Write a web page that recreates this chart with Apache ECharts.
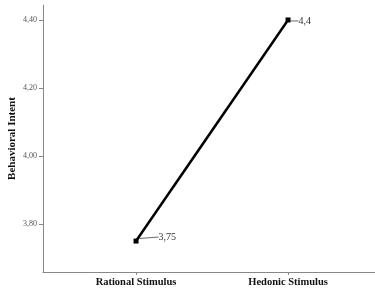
<!DOCTYPE html>
<html><head><meta charset="utf-8">
<script src="https://cdn.jsdelivr.net/npm/echarts@6/dist/echarts.min.js"></script>
<style>html,body{margin:0;padding:0;background:#fff}#c{width:375px;height:288px}</style>
</head><body><div id="c"></div>
<script>
var categories = ['Rational Stimulus', 'Hedonic Stimulus'];
var values = [3.75, 4.4];
var yTicks = [3.8, 4.0, 4.2, 4.4];
var xTicks = [0, 1];
var serif = '"Liberation Serif","DejaVu Serif",serif';
function fmt(v){ return v.toFixed(2).replace('.', ','); }
var chart = echarts.init(document.getElementById('c'), null, {renderer:'canvas'});
chart.setOption({
  animation: false,
  grid: {left: 43, right: 0, top: 5, bottom: 16, containLabel: false, outerBoundsMode: 'none'},
  xAxis: {
    type: 'value', min: -0.612, max: 1.572,
    splitLine: {show: false},
    axisLine: {show: true, onZero: false, lineStyle: {color: '#888', width: 1}},
    axisTick: {show: true, customValues: xTicks, length: 3, lineStyle: {color: '#888'}},
    axisLabel: {customValues: xTicks, margin: 5, fontFamily: serif, fontWeight: 'bold', fontSize: 10.5, color: '#111',
      formatter: function(v){ return categories[Math.round(v)]; }}
  },
  yAxis: {
    type: 'value', min: 3.659, max: 4.444,
    name: 'Behavioral Intent', nameLocation: 'middle', nameGap: 25, nameMoveOverlap: false,
    nameTextStyle: {fontFamily: serif, fontWeight: 'bold', fontSize: 11, color: '#111'},
    splitLine: {show: false},
    axisLine: {show: true, onZero: false, lineStyle: {color: '#888', width: 1}},
    axisTick: {show: true, customValues: yTicks, length: 4, lineStyle: {color: '#888'}},
    axisLabel: {customValues: yTicks, margin: 6, fontFamily: serif, fontSize: 8, color: '#555', formatter: fmt}
  },
  series: [{
    type: 'line',
    data: values.map(function(v, i){ return [i, v]; }),
    symbol: 'rect', symbolSize: 5,
    itemStyle: {color: '#000'},
    lineStyle: {color: '#000', width: 2.5},
    label: {show: true, position: 'right', distance: 2, fontFamily: serif, fontSize: 10, color: '#333',
      formatter: function(p){ return String(p.value[1]).replace('.', ','); }},
    labelLine: {show: true, lineStyle: {color: '#444', width: 0.8}},
    labelLayout: function(p){ return p.dataIndex === 0 ? {dx: 18, dy: -4} : {dx: 6, dy: 1}; }
  }]
});
</script></body></html>
